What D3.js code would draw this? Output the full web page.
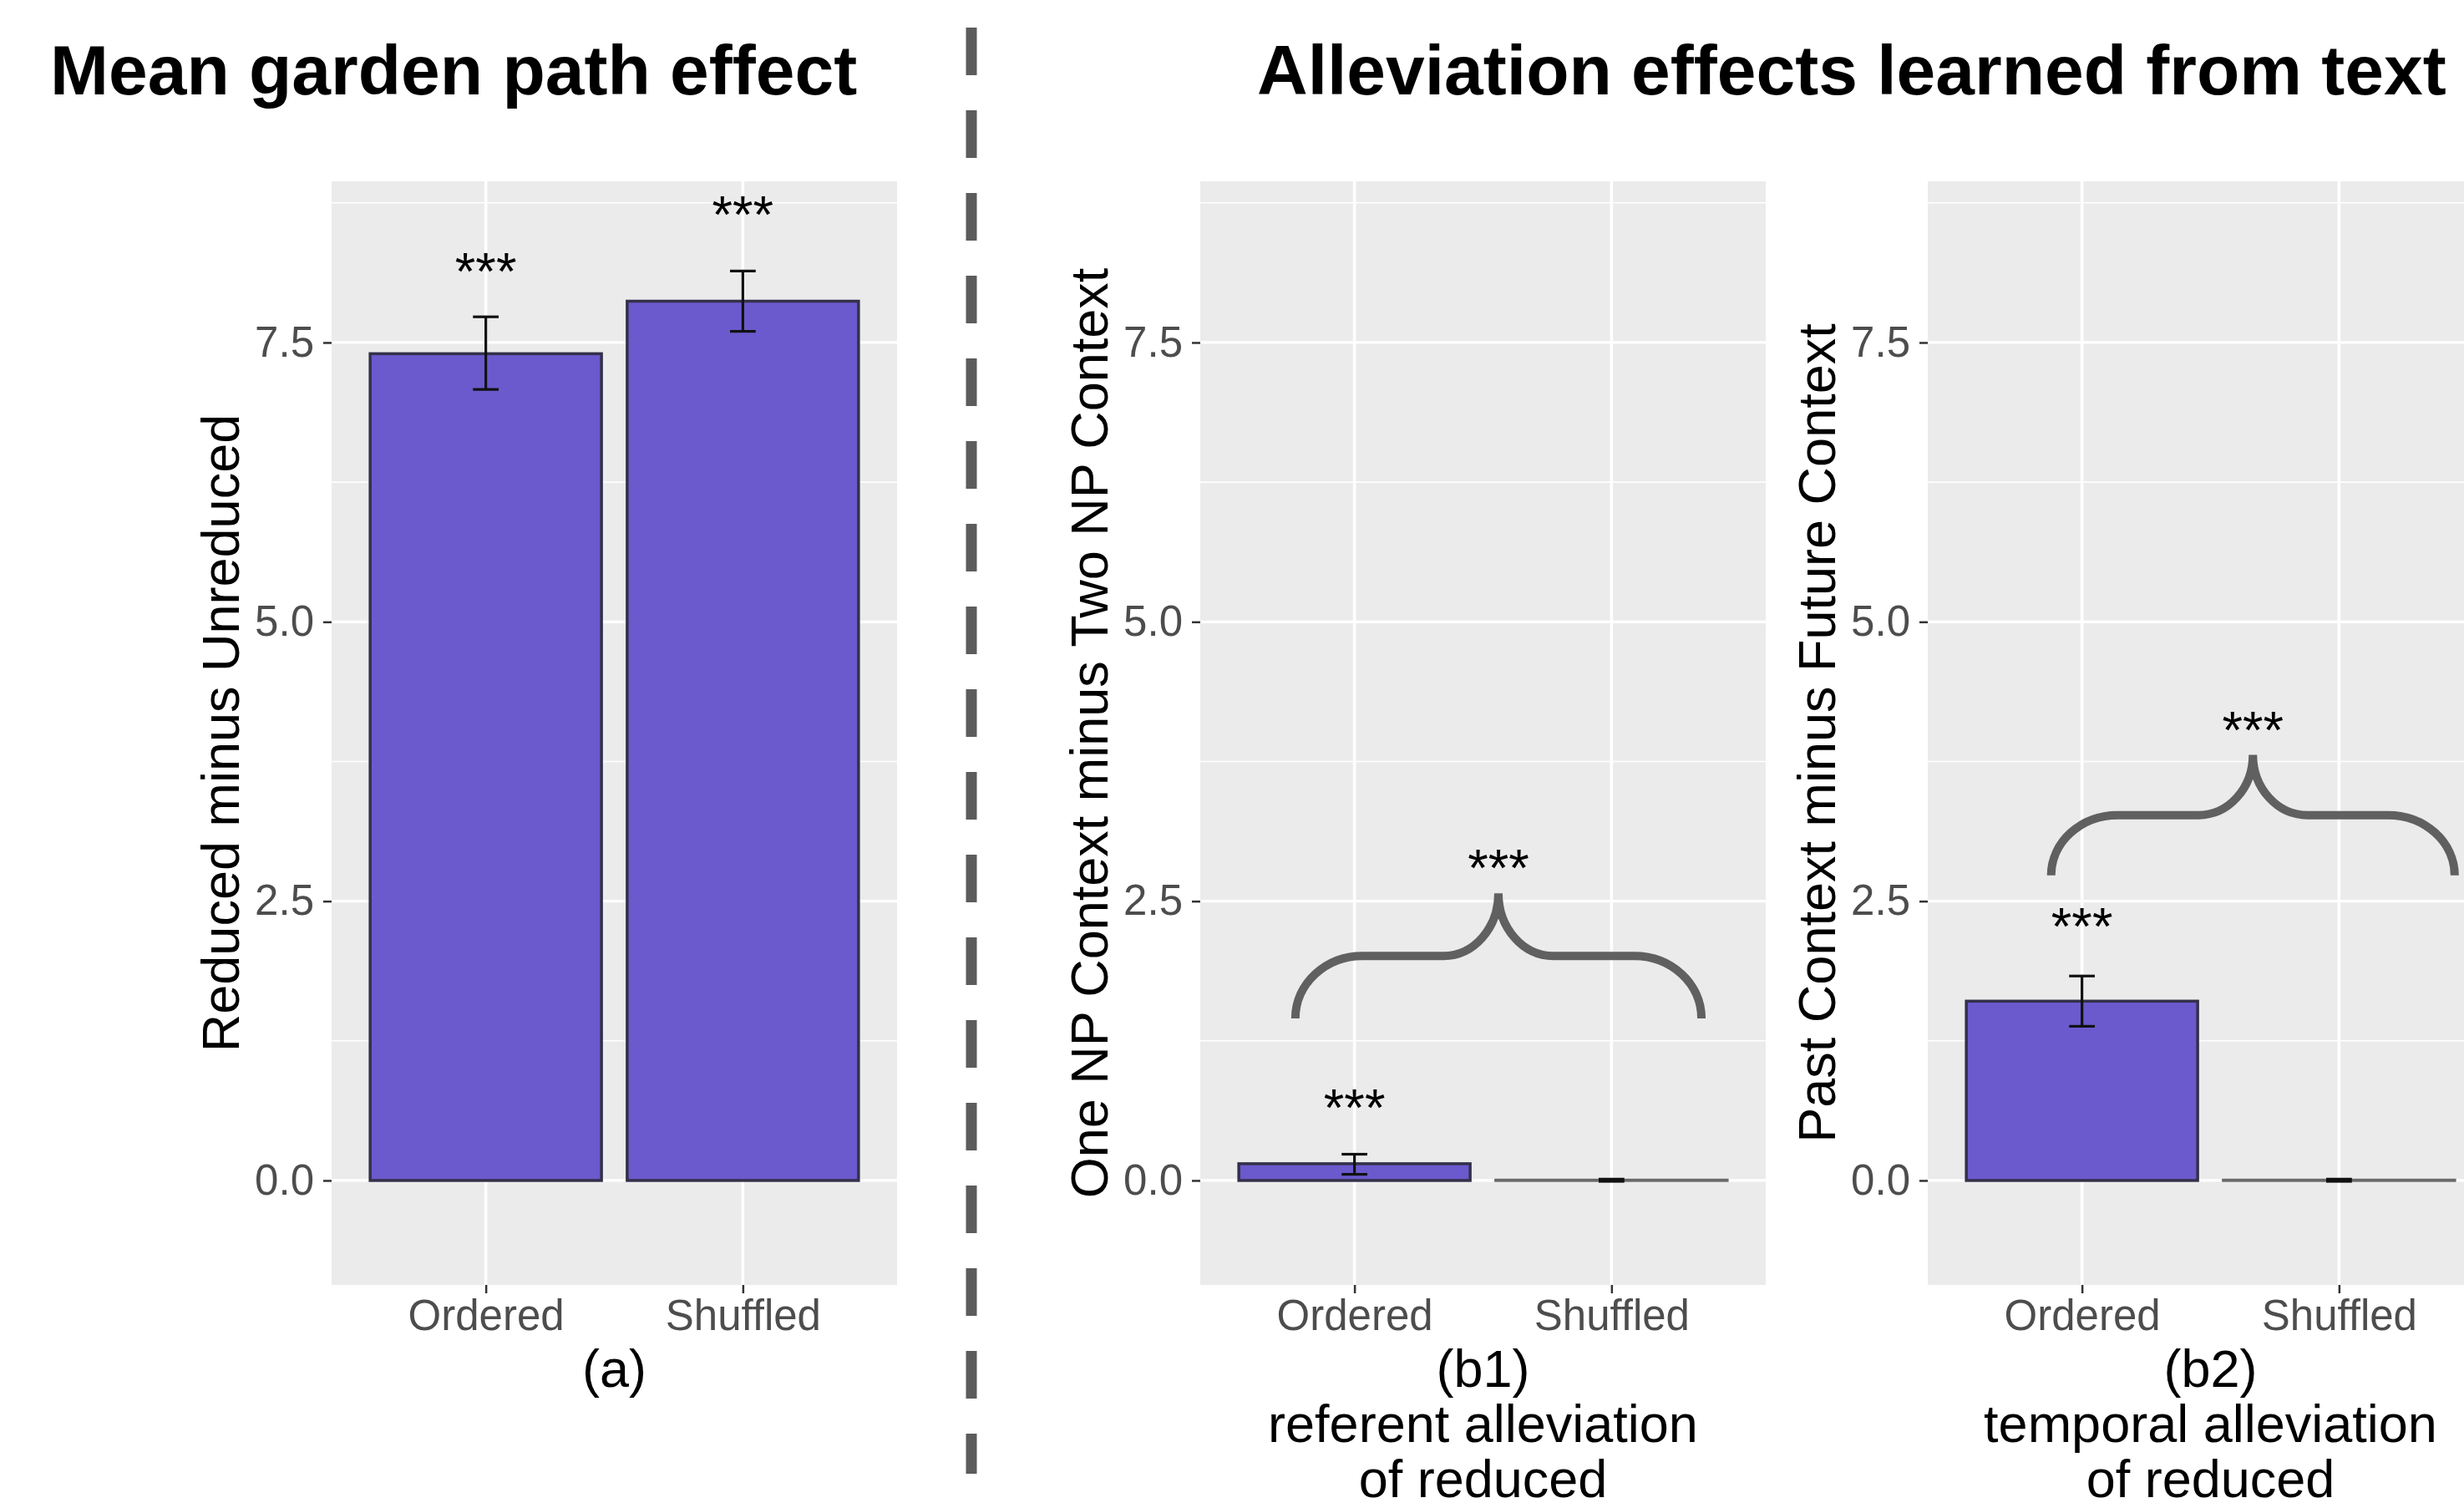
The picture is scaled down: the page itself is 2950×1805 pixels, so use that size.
<!DOCTYPE html>
<html>
<head>
<meta charset="utf-8">
<script src="https://cdn.jsdelivr.net/npm/d3@7"></script>
<style>
body { margin: 0; background: #fff; }
svg { display: block; }
</style>
</head>
<body>
<div id="chart"></div>
<script>
// global values
var categories = ["Ordered", "Shuffled"];

// (a) mean garden path effect
var gpMean = [7.40, 7.87];
var gpLow = [7.08, 7.60];
var gpHigh = [7.73, 8.14];
var gpStars = [7.91, 8.42];

// (b1) referent alleviation
var refMean = [0.15, 0.003];
var refLow = [0.055, -0.008];
var refHigh = [0.235, 0.012];
var refStars = [0.43, null];

// (b2) temporal alleviation
var tempMean = [1.605, 0.003];
var tempLow = [1.38, -0.008];
var tempHigh = [1.83, 0.012];
var tempStars = [2.05, null];

// braces between Ordered and Shuffled: [from, to] in category units, base and tip values
var braceFrom = [0.77, 0.88];
var braceTo = [2.35, 2.45];
var braceBase = [1.45, 2.73];
var braceTip = [2.57, 3.81];

var yTicks = [0, 2.5, 5, 7.5];
var yMinor = [1.25, 3.75, 6.25, 8.75];

var width = 2950, height = 1805;
var panel_top = 217, panel_bottom = 1538, panel_w = 677;
var font = "'Liberation Sans', Arial, Helvetica, sans-serif";

var svg = d3.select("#chart").append("svg")
    .attr("width", width)
    .attr("height", height);

svg.append("rect").attr("width", width).attr("height", height).attr("fill", "#fff");

var y = d3.scaleLinear().domain([-0.935, 8.943]).range([panel_bottom, panel_top]);

function draw_panel(left, means, lows, highs, stars, ytitle, xtitle, brace_i) {
    var x = d3.scalePoint().domain(categories).range([left, left + panel_w]).padding(0.6);
    var step = x.step();
    // numeric position (Ordered = 1, Shuffled = 2)
    var xn = d3.scaleLinear().domain([1, 2]).range([x(categories[0]), x(categories[1])]);
    var g = svg.append("g");

    g.append("rect")
        .attr("x", left).attr("y", panel_top)
        .attr("width", panel_w).attr("height", panel_bottom - panel_top)
        .attr("fill", "#EBEBEB");

    g.selectAll(".minor").data(yMinor).enter().append("line")
        .attr("x1", left).attr("x2", left + panel_w)
        .attr("y1", function (d) { return y(d); })
        .attr("y2", function (d) { return y(d); })
        .attr("stroke", "#fff").attr("stroke-width", 1.6);
    g.selectAll(".major").data(yTicks).enter().append("line")
        .attr("x1", left).attr("x2", left + panel_w)
        .attr("y1", function (d) { return y(d); })
        .attr("y2", function (d) { return y(d); })
        .attr("stroke", "#fff").attr("stroke-width", 3.2);
    g.selectAll(".vgrid").data(categories).enter().append("line")
        .attr("x1", function (d) { return x(d); })
        .attr("x2", function (d) { return x(d); })
        .attr("y1", panel_top).attr("y2", panel_bottom)
        .attr("stroke", "#fff").attr("stroke-width", 3.6);

    // bars
    g.selectAll(".bar").data(categories).enter().append("rect")
        .attr("x", function (d) { return x(d) - step * 0.45; })
        .attr("width", step * 0.9)
        .attr("y", function (d, i) { return y(Math.max(means[i], 0)); })
        .attr("height", function (d, i) { return Math.abs(y(means[i]) - y(0)); })
        .attr("fill", "#6A5ACD")
        .attr("stroke", function (d, i) { return means[i] < 0.05 ? "#6a6a6a" : "#34304a"; })
        .attr("stroke-width", 3.5);

    // error bars
    var cap = step * 0.05;
    categories.forEach(function (c, i) {
        var eg = g.append("g").attr("stroke", "#111").attr("stroke-width", 3.2);
        eg.append("line").attr("x1", x(c)).attr("x2", x(c))
            .attr("y1", y(lows[i])).attr("y2", y(highs[i]));
        eg.append("line").attr("x1", x(c) - cap).attr("x2", x(c) + cap)
            .attr("y1", y(lows[i])).attr("y2", y(lows[i]));
        eg.append("line").attr("x1", x(c) - cap).attr("x2", x(c) + cap)
            .attr("y1", y(highs[i])).attr("y2", y(highs[i]));
    });

    // significance stars
    g.selectAll(".star").data(categories.filter(function (d, i) { return stars[i] != null; }))
        .enter().append("text")
        .attr("x", function (d) { return x(d); })
        .attr("y", function (d) { return y(stars[categories.indexOf(d)]); })
        .attr("dy", "-0.14em")
        .attr("text-anchor", "middle")
        .style("font-family", font).style("font-size", "63px")
        .text("***");

    if (brace_i != null) {
        var xl = xn(braceFrom[brace_i]), xr = xn(braceTo[brace_i]);
        var yb = y(braceBase[brace_i]), yt = y(braceTip[brace_i]);
        var ym = (yb + yt) / 2, xc = (xl + xr) / 2, hw = xc - xl;
        var r1 = hw * 0.33, r2 = hw * 0.27, k = 0.5523;
        var p = d3.path();
        p.moveTo(xl, yb);
        p.bezierCurveTo(xl, yb - k * (yb - ym), xl + r1 * (1 - k), ym, xl + r1, ym);
        p.lineTo(xc - r2, ym);
        p.bezierCurveTo(xc - r2 * (1 - k), ym, xc, ym - (1 - k) * (ym - yt), xc, yt);
        p.bezierCurveTo(xc, ym - (1 - k) * (ym - yt), xc + r2 * (1 - k), ym, xc + r2, ym);
        p.lineTo(xr - r1, ym);
        p.bezierCurveTo(xr - r1 * (1 - k), ym, xr, yb - k * (yb - ym), xr, yb);
        g.append("path").attr("d", p.toString())
            .attr("fill", "none").attr("stroke", "#606060").attr("stroke-width", 10);
        g.append("text")
            .attr("x", xc).attr("y", yt)
            .attr("dy", "-0.14em")
            .attr("text-anchor", "middle")
            .style("font-family", font).style("font-size", "63px")
            .text("***");
    }

    // axes
    var ya = g.append("g").attr("transform", "translate(" + left + ",0)")
        .call(d3.axisLeft(y).tickValues(yTicks).tickFormat(d3.format(".1f")).tickSize(10).tickPadding(11));
    var xa = g.append("g").attr("transform", "translate(0," + panel_bottom + ")")
        .call(d3.axisBottom(x).tickSize(10).tickPadding(8));
    [ya, xa].forEach(function (a) {
        a.select(".domain").remove();
        a.selectAll("line").attr("stroke", "#333").attr("stroke-width", 2.5);
        a.selectAll("text").attr("fill", "#4D4D4D")
            .style("font-family", font).style("font-size", "51px");
    });

    // axis titles
    g.append("text")
        .attr("transform", "translate(" + (left - 111) + "," + ((panel_top + panel_bottom) / 2) + ") rotate(-90)")
        .attr("text-anchor", "middle")
        .style("font-family", font).style("font-size", "63px")
        .text(ytitle);
    var xt = g.append("text")
        .attr("text-anchor", "middle")
        .style("font-family", font).style("font-size", "63px");
    xtitle.forEach(function (line, i) {
        xt.append("tspan")
            .attr("x", left + panel_w / 2)
            .attr("y", 1660 + i * 66)
            .text(line);
    });
}

draw_panel(397, gpMean, gpLow, gpHigh, gpStars, "Reduced minus Unreduced", ["(a)"], null);
draw_panel(1437, refMean, refLow, refHigh, refStars, "One NP Context minus Two NP Context",
    ["(b1)", "referent alleviation", "of reduced"], 0);
draw_panel(2308, tempMean, tempLow, tempHigh, tempStars, "Past Context minus Future Context",
    ["(b2)", "temporal alleviation", "of reduced"], 1);

// titles
svg.append("text").attr("x", 60).attr("y", 113)
    .style("font-family", font).style("font-size", "84px").style("font-weight", "bold")
    .text("Mean garden path effect");
svg.append("text").attr("x", 1505).attr("y", 113)
    .style("font-family", font).style("font-size", "84px").style("font-weight", "bold")
    .text("Alleviation effects learned from text");

// dashed separator
svg.append("line")
    .attr("x1", 1163).attr("x2", 1163)
    .attr("y1", 33).attr("y2", 1764)
    .attr("stroke", "#5c5c5c").attr("stroke-width", 13)
    .attr("stroke-dasharray", "57,42");
</script>
</body>
</html>
